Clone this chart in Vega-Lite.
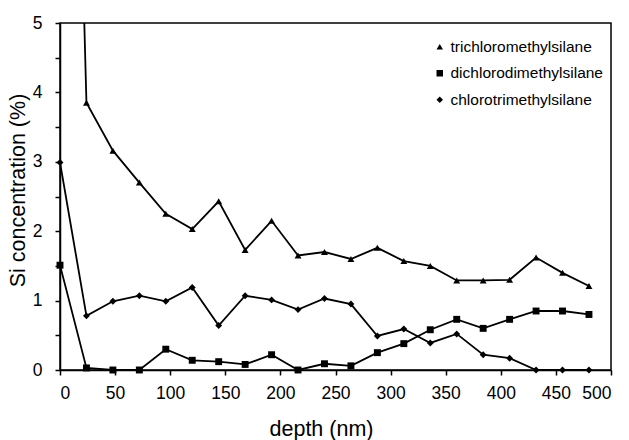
{
  "$schema": "https://vega.github.io/schema/vega-lite/v6.json",
  "width": 551,
  "height": 347,
  "autosize": {"type": "none"},
  "padding": {"left": 60, "top": 23, "right": 18, "bottom": 70},
  "background": "white",
  "config": {
    "font": "Liberation Sans",
    "view": {"stroke": "black", "strokeWidth": 1.5},
    "axis": {
      "grid": false,
      "domainColor": "black",
      "domainWidth": 1.5,
      "tickColor": "black",
      "tickWidth": 1.5,
      "tickSize": 5,
      "labelColor": "black",
      "titleColor": "black",
      "labelFont": "Liberation Sans",
      "titleFont": "Liberation Sans",
      "labelFontSize": 17.5,
      "titleFontSize": 21.5,
      "titleFontWeight": "normal"
    },
    "legend": {
      "labelFont": "Liberation Sans",
      "labelFontSize": 15.5,
      "labelColor": "black"
    }
  },
  "data": {
    "values": [
      {"depth": 0, "series": "trichloromethylsilane", "value": 18},
      {"depth": 24, "series": "trichloromethylsilane", "value": 3.85},
      {"depth": 48, "series": "trichloromethylsilane", "value": 3.16},
      {"depth": 72, "series": "trichloromethylsilane", "value": 2.70},
      {"depth": 96, "series": "trichloromethylsilane", "value": 2.25},
      {"depth": 120, "series": "trichloromethylsilane", "value": 2.03},
      {"depth": 144, "series": "trichloromethylsilane", "value": 2.43},
      {"depth": 168, "series": "trichloromethylsilane", "value": 1.73},
      {"depth": 192, "series": "trichloromethylsilane", "value": 2.15},
      {"depth": 216, "series": "trichloromethylsilane", "value": 1.65},
      {"depth": 240, "series": "trichloromethylsilane", "value": 1.70},
      {"depth": 264, "series": "trichloromethylsilane", "value": 1.60},
      {"depth": 288, "series": "trichloromethylsilane", "value": 1.76},
      {"depth": 312, "series": "trichloromethylsilane", "value": 1.57},
      {"depth": 336, "series": "trichloromethylsilane", "value": 1.50},
      {"depth": 360, "series": "trichloromethylsilane", "value": 1.29},
      {"depth": 384, "series": "trichloromethylsilane", "value": 1.29},
      {"depth": 408, "series": "trichloromethylsilane", "value": 1.30},
      {"depth": 432, "series": "trichloromethylsilane", "value": 1.62},
      {"depth": 456, "series": "trichloromethylsilane", "value": 1.40},
      {"depth": 480, "series": "trichloromethylsilane", "value": 1.21},
      {"depth": 0, "series": "dichlorodimethylsilane", "value": 1.51},
      {"depth": 24, "series": "dichlorodimethylsilane", "value": 0.03},
      {"depth": 48, "series": "dichlorodimethylsilane", "value": 0},
      {"depth": 72, "series": "dichlorodimethylsilane", "value": 0},
      {"depth": 96, "series": "dichlorodimethylsilane", "value": 0.30},
      {"depth": 120, "series": "dichlorodimethylsilane", "value": 0.14},
      {"depth": 144, "series": "dichlorodimethylsilane", "value": 0.12},
      {"depth": 168, "series": "dichlorodimethylsilane", "value": 0.08},
      {"depth": 192, "series": "dichlorodimethylsilane", "value": 0.22},
      {"depth": 216, "series": "dichlorodimethylsilane", "value": 0},
      {"depth": 240, "series": "dichlorodimethylsilane", "value": 0.09},
      {"depth": 264, "series": "dichlorodimethylsilane", "value": 0.06},
      {"depth": 288, "series": "dichlorodimethylsilane", "value": 0.25},
      {"depth": 312, "series": "dichlorodimethylsilane", "value": 0.38},
      {"depth": 336, "series": "dichlorodimethylsilane", "value": 0.58},
      {"depth": 360, "series": "dichlorodimethylsilane", "value": 0.73},
      {"depth": 384, "series": "dichlorodimethylsilane", "value": 0.60},
      {"depth": 408, "series": "dichlorodimethylsilane", "value": 0.73},
      {"depth": 432, "series": "dichlorodimethylsilane", "value": 0.85},
      {"depth": 456, "series": "dichlorodimethylsilane", "value": 0.85},
      {"depth": 480, "series": "dichlorodimethylsilane", "value": 0.80},
      {"depth": 0, "series": "chlorotrimethylsilane", "value": 2.99},
      {"depth": 24, "series": "chlorotrimethylsilane", "value": 0.78},
      {"depth": 48, "series": "chlorotrimethylsilane", "value": 0.99},
      {"depth": 72, "series": "chlorotrimethylsilane", "value": 1.07},
      {"depth": 96, "series": "chlorotrimethylsilane", "value": 0.99},
      {"depth": 120, "series": "chlorotrimethylsilane", "value": 1.19},
      {"depth": 144, "series": "chlorotrimethylsilane", "value": 0.64},
      {"depth": 168, "series": "chlorotrimethylsilane", "value": 1.07},
      {"depth": 192, "series": "chlorotrimethylsilane", "value": 1.01},
      {"depth": 216, "series": "chlorotrimethylsilane", "value": 0.87},
      {"depth": 240, "series": "chlorotrimethylsilane", "value": 1.03},
      {"depth": 264, "series": "chlorotrimethylsilane", "value": 0.95},
      {"depth": 288, "series": "chlorotrimethylsilane", "value": 0.49},
      {"depth": 312, "series": "chlorotrimethylsilane", "value": 0.59},
      {"depth": 336, "series": "chlorotrimethylsilane", "value": 0.39},
      {"depth": 360, "series": "chlorotrimethylsilane", "value": 0.52},
      {"depth": 384, "series": "chlorotrimethylsilane", "value": 0.22},
      {"depth": 408, "series": "chlorotrimethylsilane", "value": 0.17},
      {"depth": 432, "series": "chlorotrimethylsilane", "value": 0},
      {"depth": 456, "series": "chlorotrimethylsilane", "value": 0},
      {"depth": 480, "series": "chlorotrimethylsilane", "value": 0}
    ]
  },
  "encoding": {
    "x": {
      "field": "depth",
      "type": "quantitative",
      "scale": {"domain": [0, 500], "nice": false, "zero": false},
      "axis": {
        "title": "depth (nm)",
        "values": [0, 50, 100, 150, 200, 250, 300, 350, 400, 450, 500],
        "labelPadding": 9,
        "titlePadding": 17,
        "titleX": 261
      }
    },
    "y": {
      "field": "value",
      "type": "quantitative",
      "scale": {"domain": [0, 5], "nice": false},
      "axis": {
        "title": "Si concentration (%)",
        "values": [0, 0.5, 1, 1.5, 2, 2.5, 3, 3.5, 4, 4.5, 5],
        "labelExpr": "datum.value % 1 === 0 ? format(datum.value, 'd') : ''",
        "labelPadding": 13,
        "titlePadding": 3,
        "titleY": 167
      }
    }
  },
  "layer": [
    {
      "mark": {"type": "line", "color": "black", "strokeWidth": 1.8, "clip": true},
      "encoding": {"detail": {"field": "series"}}
    },
    {
      "transform": [{"filter": "datum.value <= 5"}],
      "mark": {"type": "point", "filled": true, "opacity": 1, "color": "black", "size": 48},
      "encoding": {
        "shape": {
          "field": "series",
          "type": "nominal",
          "sort": ["trichloromethylsilane", "dichlorodimethylsilane", "chlorotrimethylsilane"],
          "scale": {
            "domain": ["trichloromethylsilane", "dichlorodimethylsilane", "chlorotrimethylsilane"],
            "range": ["triangle-up", "square", "diamond"]
          },
          "legend": {
            "title": null,
            "orient": "none",
            "legendX": 372,
            "legendY": 16,
            "padding": 0,
            "symbolSize": 42,
            "symbolFillColor": "black",
            "symbolStrokeColor": "black",
            "symbolStrokeWidth": 0,
            "labelOffset": 3,
            "rowPadding": 9.5
          }
        }
      }
    }
  ]
}
